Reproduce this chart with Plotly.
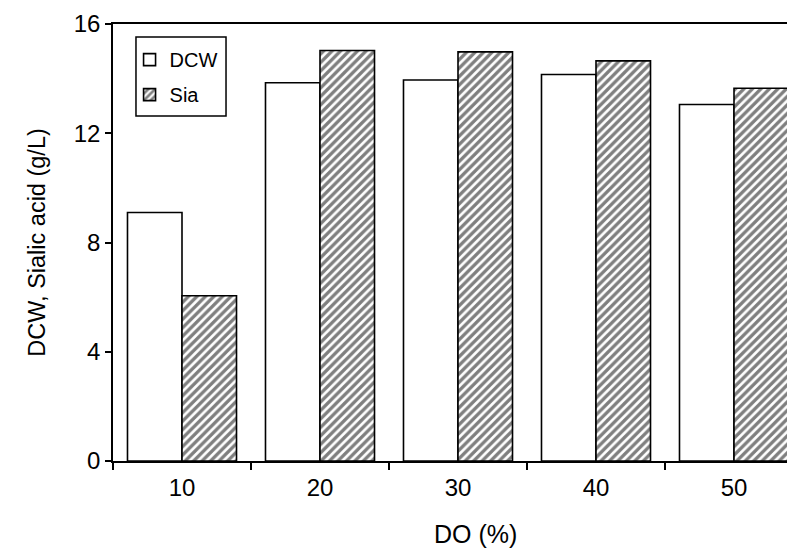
import plotly.graph_objects as go

do_levels = ["10", "20", "30", "40", "50"]
dcw = [9.1, 13.85, 13.95, 14.15, 13.05]
sia = [6.05, 15.03, 14.98, 14.65, 13.65]
y_ticks = [0, 4, 8, 12, 16]

FONT = "Liberation Sans, Arial, sans-serif"

fig = go.Figure()
fig.add_trace(go.Bar(
    x=do_levels, y=dcw, name="DCW", legendgroup="a",
    marker=dict(color="white", line=dict(color="black", width=1.6)),
))
fig.add_trace(go.Bar(
    x=do_levels, y=sia, name="Sia", legendgroup="b",
    marker=dict(color="white", line=dict(color="black", width=1.6),
                pattern=dict(shape="/", fgcolor="black", bgcolor="white",
                             size=6, solidity=0.55, fillmode="overlay")),
))

# legend frame (paper coordinates)
fig.add_shape(type="rect", xref="paper", yref="paper",
              x0=0.0333, x1=0.1638, y0=0.7895, y1=0.9703,
              line=dict(color="black", width=1.5), fillcolor="rgba(0,0,0,0)")

# x-axis title (placed as in the reference, slightly right of centre)
fig.add_annotation(text="DO (%)", xref="paper", yref="paper",
                   x=0.526, y=-0.168, xanchor="center", yanchor="middle",
                   showarrow=False, font=dict(size=25, family=FONT, color="black"))

fig.update_layout(
    width=795, height=556,
    margin=dict(l=105, r=0, t=16, b=103),
    paper_bgcolor="white", plot_bgcolor="white",
    barmode="group", bargap=0.21, bargroupgap=0,
    font=dict(family=FONT, color="black", size=24),
    legend=dict(
        x=0.024, y=0.963, xanchor="left", yanchor="top",
        borderwidth=0, bgcolor="rgba(0,0,0,0)",
        font=dict(size=20, family=FONT), tracegroupgap=6,
        itemwidth=30,
    ),
    xaxis=dict(
        type="category", range=[-0.5, 4.5], automargin=False,
        showline=True, linecolor="black", linewidth=1.5, mirror=True,
        ticks="outside", tickson="boundaries", ticklen=7, tickwidth=1.5,
        tickcolor="black", ticklabelstandoff=4,
        tickfont=dict(size=24),
        showgrid=False, zeroline=False,
    ),
    yaxis=dict(
        range=[0, 16], tickvals=y_ticks, automargin=False,
        showline=True, linecolor="black", linewidth=1.5,
        ticks="outside", ticklen=6, tickwidth=1.5, tickcolor="black",
        tickfont=dict(size=24),
        title=dict(text="DCW, Sialic acid (g/L)", font=dict(size=23.5), standoff=22),
        showgrid=False, zeroline=False,
    ),
)

fig.write_html("out.html")
